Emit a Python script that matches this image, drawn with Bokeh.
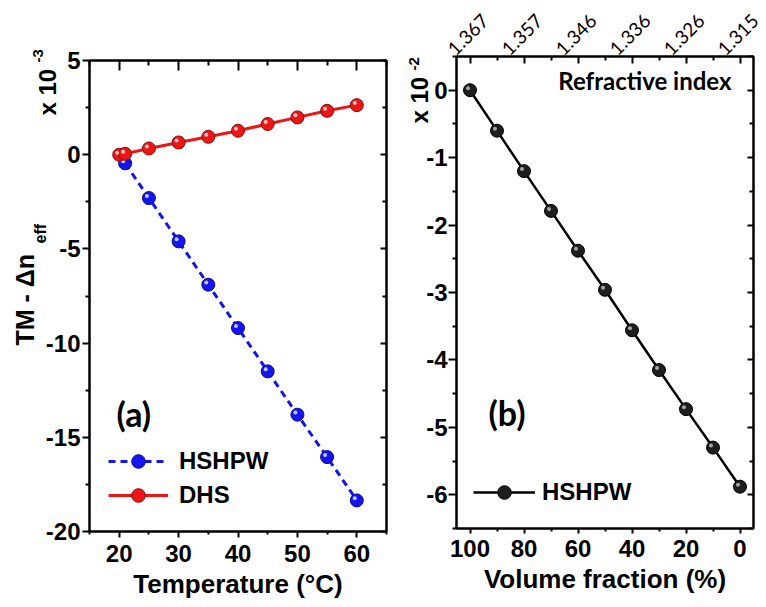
from math import pi
from bokeh.plotting import figure
from bokeh.models import (Range1d, LinearAxis, FixedTicker, Label, Legend, LegendItem,
                          CustomJSTickFormatter, GridBox)
from bokeh.core.properties import value
from bokeh.embed import file_html
from bokeh.resources import INLINE

# ---------------- data ----------------
# Panel (a): temperature sensitivity
temp_hshpw = [21, 25, 30, 35, 40, 45, 50, 55, 60]
dn_hshpw = [-0.46, -2.3, -4.6, -6.9, -9.2, -11.5, -13.8, -16.05, -18.35]
temp_dhs = [20, 21, 25, 30, 35, 40, 45, 50, 55, 60]
dn_dhs = [0.0, 0.05, 0.33, 0.65, 0.95, 1.27, 1.63, 1.98, 2.33, 2.63]
a_xticks = [20, 30, 40, 50, 60]
a_xminor = [15, 25, 35, 45, 55, 65]
a_yticks = [-20, -15, -10, -5, 0, 5]
a_yminor = [-17.5, -12.5, -7.5, -2.5, 2.5]

# Panel (b): volume fraction / refractive index
vol_frac = [100, 90, 80, 70, 60, 50, 40, 30, 20, 10, 0]
dn_vol = [0.0, -0.6, -1.2, -1.79, -2.38, -2.96, -3.56, -4.15, -4.73, -5.30, -5.88]
b_xticks = [100, 80, 60, 40, 20, 0]
b_xminor = [90, 70, 50, 30, 10]
b_yticks = [-6, -5, -4, -3, -2, -1, 0]
b_yminor = [-6.5, -5.5, -4.5, -3.5, -2.5, -1.5, -0.5, 0.5]
ri_ticks = [100, 80, 60, 40, 20, 0]
ri_labels = ["1.367", "1.357", "1.346", "1.336", "1.326", "1.315"]

BLUE = "#1414f0"
RED = "#ee1515"
DARK = "#1e1e1e"
FONT = "Liberation Sans"
CAL = "Lato"
W, H = 766, 607
PLAIN = CustomJSTickFormatter(code="return String(tick)")


def style_axis(ax, size="24px"):
    ax.axis_line_width = 2
    ax.axis_line_color = "black"
    ax.major_tick_line_width = 2
    ax.minor_tick_line_width = 2
    ax.major_tick_line_color = "black"
    ax.minor_tick_line_color = "black"
    ax.major_label_text_font = FONT
    ax.major_label_text_font_style = "bold"
    ax.major_label_text_font_size = size
    ax.major_label_text_color = "black"
    ax.axis_label_text_font = FONT
    ax.axis_label_text_font_style = "bold"
    ax.axis_label_text_font_size = "26px"
    ax.axis_label_text_color = "black"


def mirror(p, ticks, minor, side, tin, min_in):
    ax = LinearAxis(ticker=FixedTicker(ticks=ticks, minor_ticks=minor),
                    formatter=CustomJSTickFormatter(code="return ''"),
                    major_tick_in=tin, major_tick_out=0,
                    minor_tick_in=min_in, minor_tick_out=0,
                    major_label_standoff=0)
    style_axis(ax)
    p.add_layout(ax, side)


def make_fig(xr, yr, w, ml, mr, mt, mb):
    p = figure(width=w, height=H, x_range=xr, y_range=yr,
               output_backend="svg", toolbar_location=None,
               min_border_left=ml, min_border_right=mr,
               min_border_top=mt, min_border_bottom=mb, frame_align=False)
    p.xgrid.visible = False
    p.ygrid.visible = False
    p.outline_line_color = "black"
    p.outline_line_width = 2
    p.background_fill_color = "white"
    p.border_fill_color = "white"
    return p


def add_label(p, conv, px, py, text, size, font=CAL, align="left"):
    x, y = conv(px, py)
    p.add_layout(Label(x=x, y=y, text=text, text_align=align,
                       text_baseline="middle", text_font=font,
                       text_font_style="bold", text_font_size=f"{size}px",
                       text_color="black"))


def make_legend(items, loc, gw, standoff):
    return Legend(items=items, location=loc, glyph_width=gw, glyph_height=34,
                  label_height=34, label_standoff=standoff, spacing=0, padding=0,
                  margin=0, border_line_color=None, background_fill_alpha=0,
                  label_text_font=FONT, label_text_font_style="bold",
                  label_text_font_size="24px", label_text_color="black")


# ---------------- panel (a) ----------------
p1 = make_fig(Range1d(15, 65), Range1d(-20, 5), 400, 89, 14, 60, 76)
A_X0, A_X1, A_Y0, A_Y1 = 89, 386, 60, 531   # frame in canvas px (for free text only)


def conv_a(px, py):
    return (15 + (px - A_X0) * 50 / (A_X1 - A_X0),
            5 - (py - A_Y0) * 25 / (A_Y1 - A_Y0))


xa = p1.xaxis[0]
xa.ticker = FixedTicker(ticks=a_xticks, minor_ticks=a_xminor)
xa.formatter = PLAIN
xa.axis_label = "Temperature (°C)"
xa.major_tick_in, xa.major_tick_out = 0, 6
xa.minor_tick_in, xa.minor_tick_out = 0, 3
xa.major_label_standoff = 7
xa.axis_label_standoff = 4
style_axis(xa)

ya = p1.yaxis[0]
ya.ticker = FixedTicker(ticks=a_yticks, minor_ticks=a_yminor)
ya.formatter = PLAIN
ya.major_tick_in, ya.major_tick_out = 0, 7
ya.minor_tick_in, ya.minor_tick_out = 0, 4
ya.major_label_standoff = 2
style_axis(ya)

mirror(p1, a_xticks, a_xminor, "above", 10, 5)
mirror(p1, a_yticks, a_yminor, "right", 6, 4)

l1 = p1.line(temp_hshpw, dn_hshpw, line_color=BLUE, line_width=3, line_dash="7 5")
s1 = p1.scatter(temp_hshpw, dn_hshpw, size=13, fill_color=BLUE, line_color="#0a0a8a",
                line_width=1)
p1.scatter([t - 0.34 for t in temp_hshpw], [v + 0.11 for v in dn_hshpw], size=4,
           fill_color="white", fill_alpha=0.75, line_color=None)
l2 = p1.line(temp_dhs, dn_dhs, line_color=RED, line_width=3)
s2 = p1.scatter(temp_dhs, dn_dhs, size=13, fill_color=RED, line_color="#8a0a0a",
                line_width=1)
p1.scatter([t - 0.34 for t in temp_dhs], [v + 0.11 for v in dn_dhs], size=4,
           fill_color="white", fill_alpha=0.75, line_color=None)

p1.add_layout(make_legend([LegendItem(label="HSHPW", renderers=[l1, s1]),
                           LegendItem(label="DHS", renderers=[l2, s2])],
                          (19, 19), 60, 11))
add_label(p1, conv_a, 116, 413, "(a)", 34)

# ---------------- panel (b) ----------------
p2 = make_fig(Range1d(105, -5), Range1d(-6.5, 0.5), 366, 56, 13, 56, 79)
B_X0, B_X1, B_Y0, B_Y1 = 456, 753, 56, 528   # frame in canvas px of the page


def conv_b(px, py):
    return (105 - (px - B_X0) * 110 / (B_X1 - B_X0),
            0.5 - (py - B_Y0) * 7 / (B_Y1 - B_Y0))


def vol_to_px(v):
    return B_X0 + (105 - v) * (B_X1 - B_X0) / 110


xb = p2.xaxis[0]
xb.ticker = FixedTicker(ticks=b_xticks, minor_ticks=b_xminor)
xb.formatter = PLAIN
xb.axis_label = "Volume fraction (%)"
xb.major_tick_in, xb.major_tick_out = 0, 5
xb.minor_tick_in, xb.minor_tick_out = 0, 3
xb.major_label_standoff = 6
xb.axis_label_standoff = 4
style_axis(xb)

yb = p2.yaxis[0]
yb.ticker = FixedTicker(ticks=b_yticks, minor_ticks=b_yminor)
yb.formatter = PLAIN
yb.major_tick_in, yb.major_tick_out = 0, 8
yb.minor_tick_in, yb.minor_tick_out = 0, 4
yb.major_label_standoff = 1
style_axis(yb)

mirror(p2, ri_ticks, b_xminor, "above", 7, 4)
mirror(p2, b_yticks, b_yminor, "right", 6, 4)

l3 = p2.line(vol_frac, dn_vol, line_color="black", line_width=2.5)
s3 = p2.scatter(vol_frac, dn_vol, size=13, fill_color=DARK, line_color="black",
                line_width=1)
p2.scatter([v + 0.74 for v in vol_frac], [d + 0.03 for d in dn_vol], size=4,
           fill_color="white", fill_alpha=0.6, line_color=None)

p2.add_layout(make_legend([LegendItem(label="HSHPW", renderers=[l3, s3])],
                          (17, 19), 62, 7))
add_label(p2, conv_b, 488, 412, "(b)", 34)
add_label(p2, conv_b, 731, 80, "Refractive index", 24, align="right")

# ---------------- transparent overlay for texts outside the frames ----------------
ov = figure(width=W, height=H, x_range=Range1d(0, W), y_range=Range1d(0, H),
            output_backend="svg", toolbar_location=None, min_border=0,
            x_axis_type=None, y_axis_type=None, outline_line_color=None,
            background_fill_alpha=0, border_fill_alpha=0, frame_align=False)
ov.grid.visible = False


def ov_text(xs, ys, texts, size, font=FONT, style="bold", angle=0.0, align="left"):
    ov.text(x=xs, y=[H - y for y in ys], text=texts, angle=angle, text_align=align,
            text_baseline="middle", text_font=value(font),
            text_font_size=value(f"{size}px"), text_font_style=style,
            text_color="black")


# panel (a) y title  "TM - Δn_eff"  and  "x 10^-3" / "x 10^-2"
ov_text([24], [345], ["TM - Δn"], 25, angle=pi / 2)
ov_text([39.5], [243], ["eff"], 16, angle=pi / 2)
ov_text([46.5, 418.5], [115, 123], ["x 10", "x 10"], 24, angle=pi / 2)
ov_text([37], [62], ["-3"], 15, angle=pi / 2)
ov_text([413], [70], ["-2"], 15, angle=pi / 2)
# refractive index tick labels on the top axis of panel (b), rotated 45 degrees
for t, lab in zip(ri_ticks, ri_labels):
    ov.add_layout(Label(x=vol_to_px(t) - 2, y=H - 34, text=lab, angle=45,
                        angle_units="deg", text_align="center",
                        text_baseline="middle", text_font=CAL,
                        text_font_style="normal", text_font_size="19px",
                        text_color="black"))

layout = GridBox(children=[(p1, 0, 0), (p2, 0, 1), (ov, 0, 0, 1, 2)])
open("out.html", "w").write(file_html(layout, INLINE))
